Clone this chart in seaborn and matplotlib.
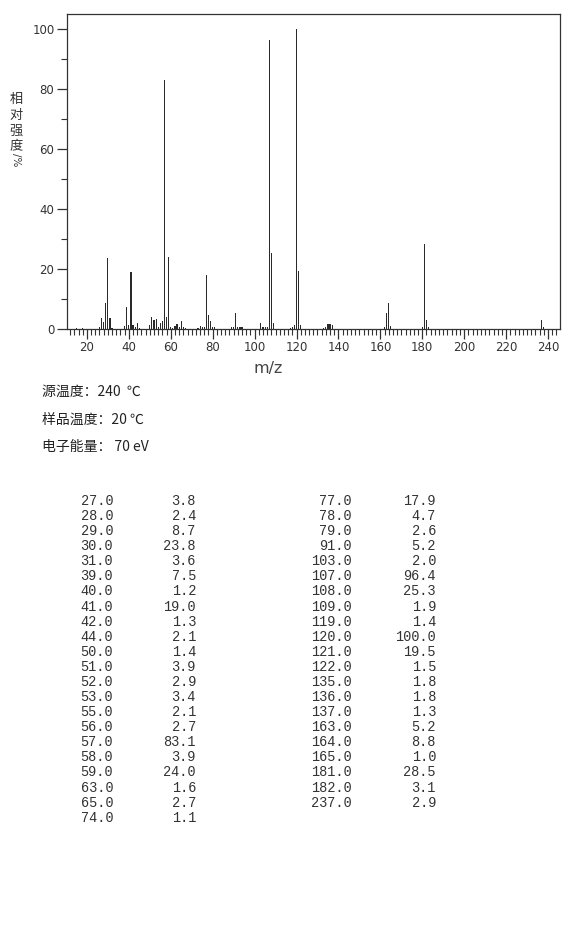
import matplotlib
matplotlib.use("Agg")
import matplotlib.pyplot as plt
import seaborn as sns
import pandas as pd
from matplotlib.ticker import MultipleLocator

# peaks listed in the table
table_mz = [27, 28, 29, 30, 31, 39, 40, 41, 42, 44, 50, 51, 52, 53, 55, 56, 57, 58, 59, 63, 65, 74,
            77, 78, 79, 91, 103, 107, 108, 109, 119, 120, 121, 122, 135, 136, 137, 163, 164, 165,
            181, 182, 237]
table_int = [3.8, 2.4, 8.7, 23.8, 3.6, 7.5, 1.2, 19.0, 1.3, 2.1, 1.4, 3.9, 2.9, 3.4, 2.1, 2.7, 83.1,
             3.9, 24.0, 1.6, 2.7, 1.1, 17.9, 4.7, 2.6, 5.2, 2.0, 96.4, 25.3, 1.9, 1.4, 100.0, 19.5,
             1.5, 1.8, 1.8, 1.3, 5.2, 8.8, 1.0, 28.5, 3.1, 2.9]

# small peaks (<1 %) read off the spectrum, not in the table
small_mz = [15, 18, 26, 32, 38, 43, 45, 54, 60, 61, 62, 64, 66, 67, 73, 75, 76, 80, 81, 89, 90,
            92, 93, 94, 104, 105, 106, 117, 118, 133, 134, 162, 180, 183, 238]
small_int = [0.5, 0.3, 0.6, 0.4, 0.9, 0.8, 0.5, 0.7, 0.8, 0.5, 0.9, 0.7, 0.8, 0.4, 0.5, 0.8, 0.6,
             0.6, 0.6, 0.6, 0.8, 0.8, 0.8, 0.6, 0.7, 0.6, 0.8, 0.4, 0.7, 0.4, 0.7, 0.6, 0.6, 0.6, 0.8]

ylabel_chars = ["相", "对", "强", "度"]
conditions = ["源温度：240  ℃", "样品温度：20 ℃", "电子能量： 70 eV"]

df = pd.DataFrame({"mz": table_mz + small_mz, "intensity": table_int + small_int})

sns.set_style("white")
plt.rcParams['font.family'] = ['DejaVu Sans', 'Noto Sans CJK SC']

fig = plt.figure(figsize=(5.70, 9.26), dpi=100)
ax = fig.add_axes([67 / 570, 1 - 329 / 926, (560 - 67) / 570, (329 - 14.5) / 926])

sns.barplot(data=df, x="mz", y="intensity", native_scale=True, width=0.55,
            color="#2a2a2a", linewidth=0, ax=ax)

ax.set_xlim(10.5, 245.7)
ax.set_ylim(0, 104.9)
ax.set_xlabel("")
ax.set_ylabel("")
ax.xaxis.set_major_locator(MultipleLocator(20))
ax.xaxis.set_minor_locator(MultipleLocator(2))
ax.yaxis.set_major_locator(MultipleLocator(20))
ax.yaxis.set_minor_locator(MultipleLocator(10))
ax.tick_params(which="major", direction="out", length=7, width=0.9, color="#333333",
               labelsize=8.5, labelcolor="#333333", bottom=True, left=True, pad=2)
ax.tick_params(which="minor", direction="out", length=4, width=0.8, color="#333333",
               bottom=True, left=True)
for sp in ax.spines.values():
    sp.set_color("#333333")
    sp.set_linewidth(0.9)

# axis titles: stacked characters, then a rotated "/%"
for i, ch in enumerate(ylabel_chars):
    fig.text(16 / 570, 1 - (99 + i * 16) / 926, ch, fontsize=9.5, color="#333333",
             family=['Noto Sans CJK SC'], ha="center", va="center")
fig.text(16 / 570, 1 - 160 / 926, "/%", fontsize=7.5, color="#333333", rotation=-90,
         ha="center", va="center")
fig.text(268 / 570, 1 - 368 / 926, "m/z", fontsize=11.5, color="#444444", ha="center",
         va="center")

# acquisition conditions
for i, line in enumerate(conditions):
    fig.text(42 / 570, 1 - (392 + i * 27.5) / 926, line, fontsize=10, color="#222222",
             family=['Noto Sans CJK SC', 'DejaVu Sans'], ha="left", va="center")

# peak table in two columns
left_n = 22
for i, (m, v) in enumerate(zip(table_mz, table_int)):
    col = 0 if i < left_n else 1
    row = i if i < left_n else i - left_n
    y = 1 - (501 + row * 15.08) / 926
    x1, x2 = (113, 196) if col == 0 else (352, 436)
    fig.text(x1 / 570, y, f"{m:.1f}", fontsize=9.8, family="Liberation Mono", color="#333333",
             ha="right", va="center")
    fig.text(x2 / 570, y, f"{v:.1f}", fontsize=9.8, family="Liberation Mono", color="#333333",
             ha="right", va="center")

fig.savefig("out.png", dpi=100, facecolor="white")
